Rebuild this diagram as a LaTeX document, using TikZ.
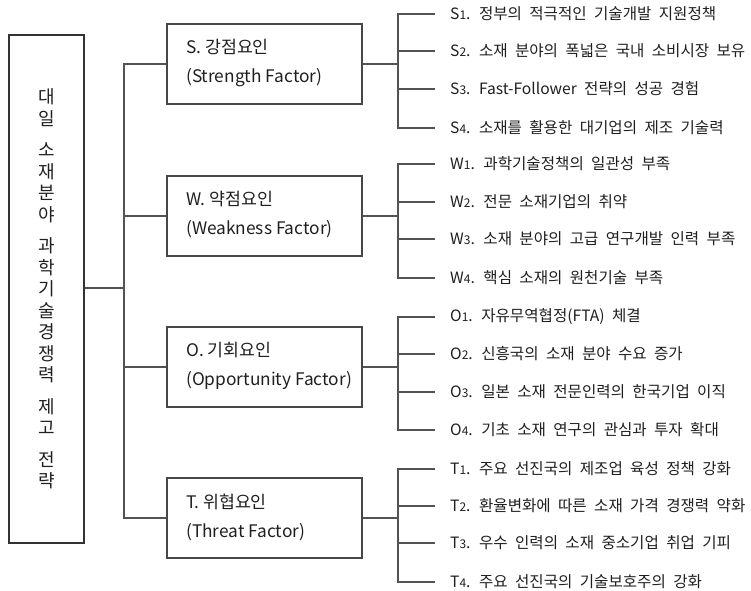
\documentclass[tikz,border=0pt]{standalone}
\usepackage{fontspec}
\setmainfont{Noto Sans CJK KR}
\newfontfamily\itemfont{Noto Sans CJK KR}[WordSpace=2.1]
\newcommand{\sn}[1]{{\fontsize{12}{12}\selectfont #1}}
\begin{document}
\begin{tikzpicture}[x=1pt,y=-1pt,
  conn/.style={draw=black!68, line width=1.2pt},
  mainbox/.style={draw=black!80, line width=1.2pt, minimum width=75pt, minimum height=508pt, inner sep=0pt, align=center, font=\fontsize{18}{21.5}\selectfont, text=black!88},
  catbox/.style={draw=black!72, line width=1.2pt, minimum width=195pt, minimum height=80pt, inner sep=0pt},
  cattext/.style={anchor=west, inner sep=0pt, align=left, font=\fontsize{17.3}{29}\selectfont, text=black!88},
  itemtext/.style={anchor=west, inner sep=0pt, font=\itemfont\fontsize{15.6}{17}\selectfont, text=black!88}
]
\useasboundingbox (0,0) rectangle (751,590);

% main box
\node[mainbox] (main) at (46.5,289) {대\\일\\[10pt]소\\재\\분\\야\\[10pt]과\\학\\기\\술\\경\\쟁\\력\\[10pt]제\\고\\[10pt]전\\략};

% category boxes
\node[catbox] (sbox) at (264.5,64) {};
\node[catbox] (wbox) at (264.5,216) {};
\node[catbox] (obox) at (264.5,367) {};
\node[catbox] (tbox) at (264.5,518) {};
\node[cattext] (stxt) at (186,63) {S. 강점요인\\(Strength Factor)};
\node[cattext] (wtxt) at (186,215) {W. 약점요인\\(Weakness Factor)};
\node[cattext] (otxt) at (186,366) {O. 기회요인\\(Opportunity Factor)};
\node[cattext] (ttxt) at (186,517) {T. 위협요인\\(Threat Factor)};

% junction coordinates
\coordinate (lj) at (124,288);
\coordinate (sj) at (398,64);
\coordinate (wj) at (398,216);
\coordinate (oj) at (398,367);
\coordinate (tj) at (398,518);

% items
\node[itemtext] (s1) at (450,14) {S\sn{1}. 정부의 적극적인 기술개발 지원정책};
\node[itemtext] (s2) at (450,51) {S\sn{2}. 소재 분야의 폭넓은 국내 소비시장 보유};
\node[itemtext] (s3) at (450,89) {S\sn{3}. Fast-Follower 전략의 성공 경험};
\node[itemtext] (s4) at (450,128) {S\sn{4}. 소재를 활용한 대기업의 제조 기술력};
\node[itemtext] (w1) at (450,164) {W\sn{1}. 과학기술정책의 일관성 부족};
\node[itemtext] (w2) at (450,202) {W\sn{2}. 전문 소재기업의 취약};
\node[itemtext] (w3) at (450,239) {W\sn{3}. 소재 분야의 고급 연구개발 인력 부족};
\node[itemtext] (w4) at (450,278) {W\sn{4}. 핵심 소재의 원천기술 부족};
\node[itemtext] (o1) at (450,317) {O\sn{1}. 자유무역협정(FTA) 체결};
\node[itemtext] (o2) at (450,354) {O\sn{2}. 신흥국의 소재 분야 수요 증가};
\node[itemtext] (o3) at (450,392) {O\sn{3}. 일본 소재 전문인력의 한국기업 이직};
\node[itemtext] (o4) at (450,430) {O\sn{4}. 기초 소재 연구의 관심과 투자 확대};
\node[itemtext] (t1) at (450,469) {T\sn{1}. 주요 선진국의 제조업 육성 정책 강화};
\node[itemtext] (t2) at (450,506) {T\sn{2}. 환율변화에 따른 소재 가격 경쟁력 약화};
\node[itemtext] (t3) at (450,543) {T\sn{3}. 우수 인력의 소재 중소기업 취업 기피};
\node[itemtext] (t4) at (450,582) {T\sn{4}. 주요 선진국의 기술보호주의 강화};

% left bracket
\draw[conn] (main.east |- lj) -- (lj);
\draw[conn] (sbox.west) -| (lj) |- (tbox.west);
\draw[conn] (wbox.west) -- (wbox.west -| lj);
\draw[conn] (obox.west) -- (obox.west -| lj);

% right brackets
\foreach \c/\j in {s/sj,w/wj,o/oj,t/tj}{
  \draw[conn] (\c box.east) -- (\j);
  \draw[conn] ([xshift=-15pt]\c1.west) -| (\j) |- ([xshift=-15pt]\c4.west);
  \draw[conn] ([xshift=-15pt]\c2.west) -- (\c2.west -| \j);
  \draw[conn] ([xshift=-15pt]\c3.west) -- (\c3.west -| \j);
}
\end{tikzpicture}
\end{document}
